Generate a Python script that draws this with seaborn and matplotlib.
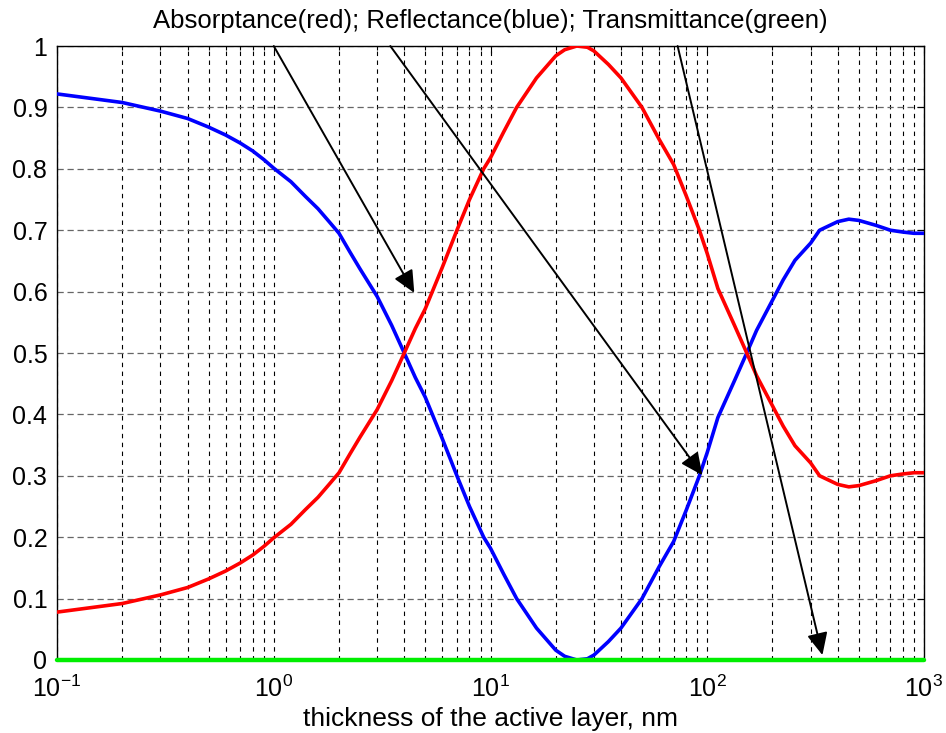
import matplotlib
matplotlib.use("Agg")
import matplotlib.pyplot as plt
import matplotlib.ticker as mticker
import seaborn as sns
import pandas as pd

# ---- data ----
thickness = [0.1, 0.2, 0.3, 0.4, 0.5, 0.6, 0.7, 0.8, 0.9, 1.0,
             1.2, 1.4, 1.6, 1.8, 2.0, 2.25, 2.5, 3.0, 3.5, 4.0,
             4.5, 5.0, 6.0, 7.0, 8.0, 9.3, 10, 11.5, 13.2, 16.3,
             20, 22, 25, 28, 30, 35, 40, 50, 60, 70,
             80, 92, 100, 112, 134, 150, 169, 200, 224, 254,
             300, 330, 400, 450, 500, 600, 700, 800, 900, 1000]

reflectance = [0.922, 0.908, 0.894, 0.882, 0.868, 0.855, 0.842, 0.829, 0.815, 0.801,
               0.779, 0.755, 0.735, 0.714, 0.695, 0.664, 0.637, 0.592, 0.545, 0.500,
               0.460, 0.428, 0.360, 0.300, 0.250, 0.200, 0.182, 0.140, 0.100, 0.052,
               0.016, 0.006, 0.000, 0.002, 0.008, 0.030, 0.052, 0.100, 0.152, 0.193,
               0.244, 0.300, 0.338, 0.395, 0.456, 0.495, 0.537, 0.586, 0.619, 0.651,
               0.679, 0.700, 0.714, 0.718, 0.716, 0.708, 0.700, 0.697, 0.695, 0.695]

absorptance = [0.078, 0.092, 0.106, 0.118, 0.132, 0.145, 0.158, 0.171, 0.185, 0.199,
               0.221, 0.245, 0.265, 0.286, 0.305, 0.336, 0.363, 0.408, 0.455, 0.500,
               0.540, 0.572, 0.640, 0.700, 0.750, 0.800, 0.818, 0.860, 0.900, 0.948,
               0.984, 0.994, 1.000, 0.998, 0.992, 0.970, 0.948, 0.900, 0.848, 0.807,
               0.756, 0.700, 0.662, 0.605, 0.544, 0.505, 0.463, 0.414, 0.381, 0.349,
               0.321, 0.300, 0.286, 0.282, 0.284, 0.292, 0.300, 0.303, 0.305, 0.305]

transmittance = [0.0] * len(thickness)

# arrows: (start x, start y) -> (tip x, tip y)
arrow_starts = [(1.0, 1.0), (3.45, 1.0), (73.0, 1.0)]
arrow_tips = [(4.45, 0.598), (95.0, 0.301), (340.0, 0.008)]

title_text = "Absorptance(red); Reflectance(blue); Transmittance(green)"
xlabel_text = "thickness of the active layer, nm"
y_ticks = [0, 0.1, 0.2, 0.3, 0.4, 0.5, 0.6, 0.7, 0.8, 0.9, 1]
y_ticklabels = ["0", "0.1", "0.2", "0.3", "0.4", "0.5", "0.6", "0.7", "0.8", "0.9", "1"]

# ---- styling ----
sns.set_style("white")
plt.rcParams['font.family'] = ['Liberation Sans', 'DejaVu Sans']
plt.rcParams['mathtext.fontset'] = 'custom'
plt.rcParams['mathtext.rm'] = 'Liberation Sans'
plt.rcParams['mathtext.it'] = 'Liberation Sans'
plt.rcParams['mathtext.default'] = 'regular'
plt.rcParams['text.color'] = 'black'
plt.rcParams['axes.labelcolor'] = 'black'

fig = plt.figure(figsize=(9.46, 7.33), dpi=100)
ax = fig.add_axes([0.0603, 0.0996, 0.9164, 0.8376])

df = pd.DataFrame({"thickness": thickness, "A": absorptance,
                   "R": reflectance, "T": transmittance})

sns.lineplot(data=df, x="thickness", y="R", ax=ax, color="#0000ff", lw=2.6, zorder=3)
sns.lineplot(data=df, x="thickness", y="A", ax=ax, color="#ff0000", lw=2.6, zorder=3)
sns.lineplot(data=df, x="thickness", y="T", ax=ax, color="#00ee00", lw=3.2, zorder=4,
             clip_on=False)

ax.set_xscale("log")
ax.set_xlim(0.1, 1000)
ax.set_ylim(0, 1)
ax.set_yticks(y_ticks)
ax.set_yticklabels(y_ticklabels)
ax.xaxis.set_major_locator(mticker.LogLocator(base=10, numticks=10))
ax.xaxis.set_minor_locator(mticker.LogLocator(base=10, subs=range(2, 10), numticks=20))
ax.xaxis.set_minor_formatter(mticker.NullFormatter())

# grids (MATLAB-like)
ax.grid(True, axis="y", which="major", color="#666666", linestyle=(0, (5, 3)), lw=0.9)
ax.grid(True, axis="x", which="major", color="#000000", linestyle=(0, (4, 4)), lw=0.8)
ax.grid(True, axis="x", which="minor", color="#000000", linestyle=(0, (4, 4)), lw=0.8)
ax.set_axisbelow(True)

for s in ax.spines.values():
    s.set_color("black")
    s.set_linewidth(1.0)
    s.set_visible(True)

ax.tick_params(axis="both", which="both", direction="in", top=True, right=True,
               color="black", labelcolor="black")
ax.tick_params(axis="y", which="major", labelsize=18, pad=7)
ax.tick_params(axis="x", which="major", labelsize=18, pad=11)
ax.tick_params(axis="both", which="major", length=5, width=0.8)
ax.tick_params(axis="x", which="minor", length=3, width=0.8)

ax.set_xlabel(xlabel_text, fontsize=19, labelpad=4, color="black")
ax.set_ylabel("")
ax.set_title(title_text, fontsize=18.5, pad=13, color="black")

for (sx, sy), (tx, ty) in zip(arrow_starts, arrow_tips):
    ax.annotate("", xy=(tx, ty), xytext=(sx, sy),
                arrowprops=dict(arrowstyle="-|>,head_length=0.75,head_width=0.35",
                                color="black", lw=1.4, mutation_scale=18,
                                shrinkA=0, shrinkB=0),
                zorder=5)

fig.savefig("out.png", dpi=100)
